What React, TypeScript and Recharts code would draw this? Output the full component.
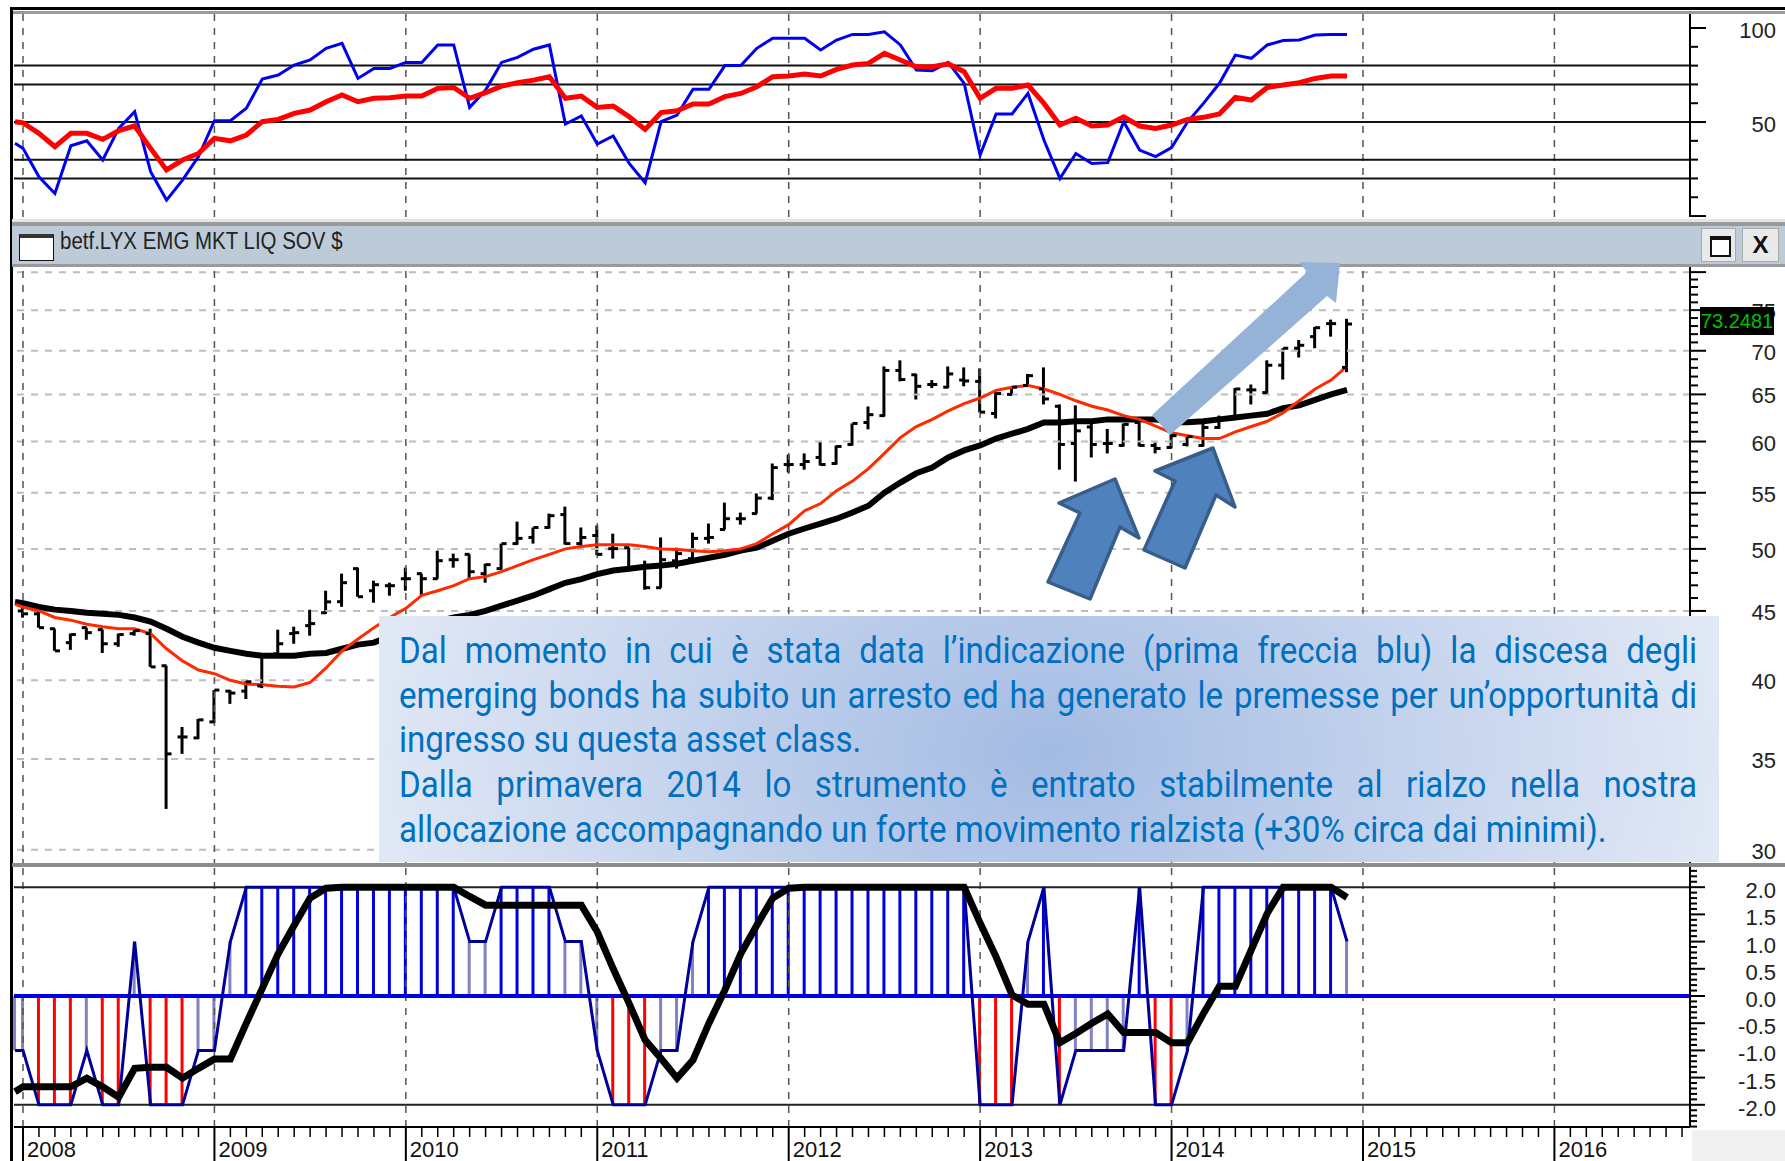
import React from "react";
import {
  Bar,
  Cell,
  ComposedChart,
  Line,
  ReferenceLine,
  XAxis,
  YAxis,
} from "recharts";

// first entry of the line series sits half a month before Jan 2008
const months = [
  -0.5, 0, 1, 2, 3, 4, 5, 6, 7, 8, 9, 10, 11, 12, 13, 14, 15, 16, 17, 18, 19, 20,
  21, 22, 23, 24, 25, 26, 27, 28, 29, 30, 31, 32, 33, 34, 35, 36, 37, 38, 39, 40,
  41, 42, 43, 44, 45, 46, 47, 48, 49, 50, 51, 52, 53, 54, 55, 56, 57, 58, 59, 60,
  61, 62, 63, 64, 65, 66, 67, 68, 69, 70, 71, 72, 73, 74, 75, 76, 77, 78, 79, 80,
  81, 82, 83,
];

const yearMonths = [0, 12, 24, 36, 48, 60, 72, 84, 96];
const yearLabels = ["2008", "2009", "2010", "2011", "2012", "2013", "2014", "2015", "2016"];

const rsiBlue = [
  38.7, 36, 20.9, 12, 37.4, 40, 29.8, 46.6, 55.5, 23.6, 8.5, 19.1, 31.6, 50.7, 50.7,
  57.3, 72.9, 75, 80.3, 83, 89.2, 91.8, 73.2, 78.5, 78.5, 81.7, 81.7, 91, 91, 57.8,
  67, 81.7, 84.4, 88.7, 91, 48.9, 53.2, 38.3, 42.6, 28, 17.7, 50.2, 53.7, 67.4, 67.4,
  80, 80, 89.2, 94.5, 94.5, 94.5, 88.3, 93.6, 96.6, 96.6, 98, 91, 77.7, 77.3, 81.7,
  70.6, 32.4, 54.3, 54.3, 65.2, 40.4, 20, 33.3, 28, 28.4, 50.2, 35.1, 31.6, 36.4, 50,
  59.9, 70.6, 85.6, 83.9, 91, 93.3, 93.6, 96.3, 96.6, 96.6,
];
const rsiRed = [
  50.2, 49.6, 44, 36.9, 44, 44, 40.8, 45.4, 47.9, 36, 24.5, 29.8, 33.3, 41.3, 40,
  43.1, 50.2, 51.4, 54.6, 56.4, 60.8, 64.4, 60.8, 62.6, 62.9, 63.8, 63.8, 67.9, 68.4,
  62.6, 65.6, 69.1, 70.9, 72.3, 74.1, 62.6, 63.8, 57.8, 58.5, 52.8, 46.1, 55, 56,
  59.6, 59.6, 63.5, 65.2, 68.8, 74.1, 74.5, 75.5, 74.5, 78, 80.3, 81.2, 86.5, 83,
  79.4, 79.4, 80.9, 76.8, 62.6, 67.9, 67.9, 69.7, 59.9, 48.4, 52, 47.9, 48.4, 52.8,
  47.9, 46.6, 48.4, 51.4, 52.5, 54.3, 63.1, 61.7, 68.4, 69.7, 70.9, 73.2, 74.5, 74.5,
];
const rsiLevels = [80, 70, 50, 30, 20];
const rsiTicks = [0, 10, 20, 30, 40, 50, 60, 70, 80, 90, 100];

const barOpen = [
  45, 44.78, 43.66, 42.64, 43.74, 43.59, 42.56, 43.3, 43.3, 41, 36.33, 36.27, 37.27,
  39.27, 39.27, 39.62, 41.84, 43.3, 43.89, 44.86, 45.71, 48.35, 46.57, 46.97, 47.53,
  47.94, 47.53, 49.09, 49.54, 47.94, 48.35, 50.45, 50.98, 51.85, 53, 50.45, 51.15,
  50.02, 50.1, 48.43, 46.81, 49, 49.18, 50.9, 51.67, 52.63, 53.09, 54.5, 57.7, 57.7,
  58.4, 57.8, 59.7, 61.97, 62.7, 67.7, 67.2, 66.1, 65.8, 66.6, 66.45, 62.93, 65, 66,
  65.6, 63.7, 59.8, 61.5, 59.8, 59.6, 61.97, 59.6, 59.4, 59.7, 59.6, 61.45, 62.5,
  65.5, 65.2, 68.3, 70.3, 71.7, 73.3, 68.05,
];
const barHigh = [
  45.23, 45, 43.66, 43.3, 43.74, 43.59, 43.3, 43.59, 43.66, 41, 36.95, 37.46, 39.34,
  39.34, 39.96, 41.84, 43.59, 43.81, 45.09, 46.57, 47.94, 48.43, 47.37, 47.21, 48.43,
  47.94, 49.85, 49.6, 49.54, 48.76, 50.45, 52.37, 51.85, 53.09, 53.72, 51.85, 52.03,
  51.31, 50.1, 49.01, 50.98, 50.1, 51.4, 52.2, 54.09, 53.18, 54.94, 57.8, 58.69, 58.8,
  60, 59.6, 61.87, 63.68, 68.16, 68.87, 67.3, 66.6, 68.16, 68.05, 67.93, 65.3, 65.9,
  67.3, 68.05, 63.9, 63.8, 61.87, 61.3, 61.87, 61.97, 59.9, 60.93, 60.6, 61.87, 62.7,
  65.7, 66.1, 68.87, 70.3, 71.3, 72.9, 73.8, 73.9,
];
const barLow = [
  44.49, 43.74, 42.05, 42.12, 42.85, 41.9, 42.34, 43.15, 40.92, 32.15, 35.3, 36.2,
  37.21, 38.43, 38.75, 39.47, 41.84, 42.56, 43.15, 44.78, 45.32, 46.1, 45.63, 46.18,
  46.57, 46.18, 47.53, 48.43, 47.53, 47.21, 48.27, 50.36, 50.45, 51.76, 50.36, 50.27,
  49.47, 49.18, 48.27, 46.65, 46.81, 48.35, 49, 50.45, 51.67, 52.1, 53.09, 54.32,
  56.92, 57.2, 57.6, 57.7, 59.6, 61.26, 62.6, 66.45, 64.44, 65.7, 65.7, 65.9, 63.04,
  62.4, 64.9, 66, 63.9, 57.2, 56.06, 58.4, 58.8, 59.5, 59.5, 58.8, 59.3, 59.5, 59.5,
  61.3, 62.4, 63.9, 65.1, 66.66, 69.2, 70.3, 71.7, 67.5,
];
const barClose = [
  44.78, 43.74, 42.05, 43.23, 43.37, 42.56, 43.23, 43.52, 40.92, 35.3, 36.33, 37.4,
  39.34, 39.14, 39.9, 41.7, 42.56, 43.37, 44.04, 45.7, 47.21, 46.1, 47.05, 46.97, 47.53,
  47.53, 49.01, 49.09, 48.1, 48.68, 50.45, 50.9, 51.85, 52.9, 50.45, 50.98, 49.54,
  50.02, 48.43, 46.81, 49.09, 49.6, 50.9, 50.98, 52.63, 52.63, 54.5, 57.4, 57.7, 58,
  57.7, 59.5, 61.87, 62.8, 67.7, 66.66, 65.9, 66.1, 67.3, 66.5, 63.07, 65.1, 65.8,
  67.1, 64.5, 59.7, 61.1, 59.7, 59.8, 61.77, 59.6, 59.3, 60.6, 60.5, 61.45, 62.4, 65.6,
  65.5, 68.3, 70.3, 70.65, 72.8, 73.3, 73.25,
];
const maBlack = [
  45.7, 45.6, 45.3, 45.1, 45, 44.86, 44.78, 44.7, 44.5, 44.2, 43.66, 43.07, 42.64,
  42.27, 42.05, 41.84, 41.7, 41.7, 41.7, 41.84, 41.9, 42.2, 42.5, 42.64, 43.1, 43.5,
  43.8, 44.2, 44.5, 44.7, 45, 45.4, 45.8, 46.2, 46.7, 47.2, 47.5, 47.9, 48.2, 48.35,
  48.5, 48.6, 48.76, 49, 49.25, 49.5, 49.85, 50.1, 50.7, 51.3, 51.76, 52.2, 52.63,
  53.18, 53.8, 55, 55.96, 56.85, 57.4, 58.4, 59.1, 59.6, 60.3, 60.8, 61.3, 61.97,
  61.97, 62.1, 62.1, 62.3, 62.3, 62.3, 62.3, 62, 62, 62.1, 62.3, 62.5, 62.7, 62.9, 63.5,
  63.8, 64.4, 65, 65.5,
];
const maRed = [
  45.5, 45.3, 45, 44.5, 44.3, 44, 43.8, 43.66, 43.66, 43.3, 42.2, 41.34, 40.7, 40.45,
  40, 39.75, 39.7, 39.6, 39.55, 39.85, 40.85, 42.05, 42.9, 43.74, 44.5, 45.2, 46.2,
  46.57, 46.97, 47.53, 47.7, 48.1, 48.6, 49.09, 49.54, 50, 50.2, 50.36, 50.36, 50.36,
  50.2, 50, 49.95, 49.85, 49.75, 49.85, 50, 50.45, 51.3, 52.1, 53.35, 54, 55.2, 56.1,
  57.3, 58.8, 60.4, 61.55, 62.3, 63.2, 64, 64.6, 65.45, 65.8, 66, 65.6, 65, 64.3, 63.7,
  63.3, 62.7, 62.3, 61.6, 60.9, 60.6, 60.3, 60.3, 61, 61.55, 62.1, 63, 64.3, 65.6, 66.6,
  68.16,
];
const priceGrid = [80, 75, 70, 65, 60, 55, 50, 45, 40, 35, 30];
const priceTicks = [
  30, 31, 32, 33, 34, 35, 36, 37, 38, 39, 40, 41, 42, 43, 44, 45, 46, 47, 48, 49, 50,
  51, 52, 53, 54, 55, 56, 57, 58, 59, 60, 61, 62, 63, 64, 65, 66, 67, 68, 69, 70, 71,
  72, 73, 74, 75, 76, 77, 78, 79, 80,
];

const oscValues = [
  -1, -1, -2, -2, -2, -1, -2, -2, 1, -2, -2, -2, -1, -1, 1, 2, 2, 2, 2, 2, 2, 2, 2, 2,
  2, 2, 2, 2, 2, 1, 1, 2, 2, 2, 2, 1, 1, -1, -2, -2, -2, -1, -1, 1, 2, 2, 2, 2, 2, 2, 2,
  2, 2, 2, 2, 2, 2, 2, 2, 2, 2, -2, -2, -2, 1, 2, -2, -1, -1, -1, -1, 2, -2, -2, -1, 2,
  2, 2, 2, 2, 2, 2, 2, 2, 1,
];
const oscAvg = [
  -1.76, -1.67, -1.67, -1.67, -1.67, -1.51, -1.67, -1.86, -1.33, -1.31, -1.31, -1.51,
  -1.33, -1.16, -1.16, -0.5, 0.14, 0.78, 1.3, 1.8, 1.98, 2, 2, 2, 2, 2, 2, 2, 2, 1.83,
  1.67, 1.67, 1.67, 1.67, 1.67, 1.67, 1.67, 1.18, 0.5, -0.14, -0.81, -1.15, -1.51, -1.18,
  -0.5, 0.11, 0.78, 1.3, 1.8, 1.98, 2, 2, 2, 2, 2, 2, 2, 2, 2, 2, 2, 1.34, 0.72, 0.02,
  -0.15, -0.15, -0.86, -0.69, -0.5, -0.33, -0.67, -0.67, -0.67, -0.86, -0.86, -0.32,
  0.18, 0.18, 0.85, 1.52, 2, 2, 2, 2, 1.81,
];
const oscTicks = [
  -2.4, -2.3, -2.2, -2.1, -2, -1.9, -1.8, -1.7, -1.6, -1.5, -1.4, -1.3, -1.2, -1.1, -1,
  -0.9, -0.8, -0.7, -0.6, -0.5, -0.4, -0.3, -0.2, -0.1, 0, 0.1, 0.2, 0.3, 0.4, 0.5, 0.6,
  0.7, 0.8, 0.9, 1, 1.1, 1.2, 1.3, 1.4, 1.5, 1.6, 1.7, 1.8, 1.9, 2, 2.1, 2.2, 2.3,
];
const monthTicks = [
  0, 1, 2, 3, 4, 5, 6, 7, 8, 9, 10, 11, 12, 13, 14, 15, 16, 17, 18, 19, 20, 21, 22, 23,
  24, 25, 26, 27, 28, 29, 30, 31, 32, 33, 34, 35, 36, 37, 38, 39, 40, 41, 42, 43, 44,
  45, 46, 47, 48, 49, 50, 51, 52, 53, 54, 55, 56, 57, 58, 59, 60, 61, 62, 63, 64, 65,
  66, 67, 68, 69, 70, 71, 72, 73, 74, 75, 76, 77, 78, 79, 80, 81, 82, 83, 84, 85, 86,
  87, 88, 89, 90, 91, 92, 93, 94, 95, 96, 97, 98, 99, 100, 101, 102, 103, 104,
];

const textLines = [
  "Dal momento in cui è stata data l’indicazione (prima freccia blu) la discesa degli",
  "emerging bonds ha subito un arresto ed ha generato le premesse per un’opportunità di",
  "ingresso su questa asset class.",
  "Dalla primavera 2014 lo strumento è entrato stabilmente al rialzo nella nostra",
  "allocazione accompagnando un forte movimento rialzista (+30% circa dai minimi).",
];
const justifiedLines = [true, true, false, true, false];

const rsiRows = months.map((m, i) => ({ m, blue: rsiBlue[i], red: rsiRed[i] }));
const priceRows = months.map((m, i) => ({
  m,
  range: i > 0 ? [barLow[i - 1], barHigh[i - 1]] : null,
  open: i > 0 ? barOpen[i - 1] : null,
  close: i > 0 ? barClose[i - 1] : null,
  black: maBlack[i],
  red: maRed[i],
}));
const oscRows = months.map((m, i) => ({ m, value: oscValues[i], avg: oscAvg[i] }));

const xDomain: [number, number] = [-0.564, 104.5];
const chartWidth = 1785;
const axisFont = "'Liberation Sans', Arial, sans-serif";

function oscColor(v: number) {
  if (v === 2) return "#0000dd";
  if (v === -2) return "#ff0000";
  return "#8282c4";
}

function RsiTick({ x, y, payload }: any) {
  const major = payload.value === 50 || payload.value === 100 || payload.value === 0;
  const label = payload.value === 50 || payload.value === 100;
  return (
    <g>
      <line x1={x} x2={x + (major ? 16 : 8)} y1={y} y2={y} stroke='#000' strokeWidth={2} />
      {label && (
        <text x={1776} y={y + 10} textAnchor='end' fontSize={22} fontFamily={axisFont} fill='#222'>
          {payload.value}
        </text>
      )}
    </g>
  );
}

function PriceTick({ x, y, payload }: any) {
  const major = payload.value % 5 === 0;
  return (
    <g>
      <line x1={x} x2={x + (major ? 16 : 8)} y1={y} y2={y} stroke='#000' strokeWidth={2} />
      {major && payload.value < 80 && (
        <text x={1776} y={y + 9} textAnchor='end' fontSize={22} fontFamily={axisFont} fill='#222'>
          {payload.value}
        </text>
      )}
    </g>
  );
}

function OscTick({ x, y, payload }: any) {
  const major = Math.abs(payload.value * 2 - Math.round(payload.value * 2)) < 0.001;
  const labelled = major && Math.abs(payload.value) <= 2;
  return (
    <g>
      <line x1={x} x2={x + (major ? 15 : 7)} y1={y} y2={y} stroke='#000' strokeWidth={2} />
      {labelled && (
        <text x={1776} y={y + 11} textAnchor='end' fontSize={22} fontFamily={axisFont} fill='#222'>
          {payload.value.toFixed(1)}
        </text>
      )}
    </g>
  );
}

function MonthTick({ x, y, payload }: any) {
  const idx = yearMonths.indexOf(payload.value);
  return (
    <g>
      <line x1={x} x2={x} y1={y} y2={idx >= 0 ? 295 : y + 10} stroke='#000' strokeWidth={idx >= 0 ? 2 : 1.5} />
      {idx >= 0 && (
        <text x={x + 4} y={y + 30} fontSize={22} fontFamily={axisFont} fill='#111'>
          {yearLabels[idx]}
        </text>
      )}
    </g>
  );
}

function OpenTick({ cx, cy, index }: any) {
  if (cy == null) return <g key={index} />;
  return <line key={index} x1={cx - 5} x2={cx} y1={cy} y2={cy} stroke='#000' strokeWidth={3} />;
}

function CloseTick({ cx, cy, index }: any) {
  if (cy == null) return <g key={index} />;
  return <line key={index} x1={cx} x2={cx + 5} y1={cy} y2={cy} stroke='#000' strokeWidth={3} />;
}

function YearLines() {
  return yearMonths.map((m) => (
    <ReferenceLine key={m} x={m} stroke='#555' strokeWidth={1.5} strokeDasharray='7 7' />
  ));
}

function RsiPanel() {
  return (
    <ComposedChart
      width={chartWidth}
      height={217}
      data={rsiRows}
      margin={{ top: 14, right: 0, bottom: 0, left: 14 }}
    >
      <XAxis dataKey='m' type='number' domain={xDomain} hide />
      <YAxis
        orientation='right'
        width={95}
        domain={[-0.5, 107.45]}
        allowDataOverflow
        ticks={rsiTicks}
        interval={0}
        tickSize={0}
        tickMargin={0}
        tick={RsiTick}
        axisLine={{ stroke: "#000", strokeWidth: 2 }}
      />
      {YearLines()}
      {rsiLevels.map((v) => (
        <ReferenceLine key={v} y={v} stroke='#111' strokeWidth={2} />
      ))}
      <Line dataKey='blue' stroke='#0000f0' strokeWidth={3} dot={false} isAnimationActive={false} />
      <Line dataKey='red' stroke='#ff0000' strokeWidth={5} dot={false} isAnimationActive={false} />
    </ComposedChart>
  );
}

function PricePanel() {
  return (
    <ComposedChart
      width={chartWidth}
      height={599}
      data={priceRows}
      margin={{ top: 0, right: 0, bottom: 0, left: 14 }}
    >
      <XAxis dataKey='m' type='number' domain={xDomain} hide />
      <YAxis
        orientation='right'
        width={95}
        scale='log'
        domain={[29.18, 80.7]}
        allowDataOverflow
        ticks={priceTicks}
        interval={0}
        tickSize={0}
        tickMargin={0}
        tick={PriceTick}
        axisLine={{ stroke: "#000", strokeWidth: 2 }}
      />
      {priceGrid.map((v) => (
        <ReferenceLine key={v} y={v} stroke='#bdbdbd' strokeWidth={2} strokeDasharray='7 7' />
      ))}
      {YearLines()}
      <Bar dataKey='range' barSize={3} fill='#000' isAnimationActive={false} />
      <Line dataKey='open' stroke='none' dot={OpenTick} isAnimationActive={false} />
      <Line dataKey='close' stroke='none' dot={CloseTick} isAnimationActive={false} />
      <Line dataKey='black' stroke='#000' strokeWidth={6} dot={false} isAnimationActive={false} />
      <Line dataKey='red' stroke='#ff2a00' strokeWidth={3} dot={false} isAnimationActive={false} />
    </ComposedChart>
  );
}

function OscPanel() {
  return (
    <ComposedChart
      width={chartWidth}
      height={295}
      data={oscRows}
      margin={{ top: 1, right: 0, bottom: 0, left: 14 }}
    >
      <XAxis
        dataKey='m'
        type='number'
        domain={xDomain}
        height={34}
        ticks={monthTicks}
        interval={0}
        tickSize={0}
        tickMargin={0}
        tick={MonthTick}
        axisLine={{ stroke: "#000", strokeWidth: 2 }}
      />
      <YAxis
        orientation='right'
        width={95}
        domain={[-2.408, 2.371]}
        allowDataOverflow
        ticks={oscTicks}
        interval={0}
        tickSize={0}
        tickMargin={0}
        tick={OscTick}
        axisLine={{ stroke: "#000", strokeWidth: 2 }}
      />
      {YearLines()}
      <ReferenceLine y={2} stroke='#222' strokeWidth={2} />
      <ReferenceLine y={-2} stroke='#222' strokeWidth={2} />
      <Bar dataKey='value' barSize={3} isAnimationActive={false}>
        {oscRows.map((r) => (
          <Cell key={r.m} fill={oscColor(r.value)} />
        ))}
      </Bar>
      <ReferenceLine y={0} stroke='#0000e6' strokeWidth={4} />
      <Line dataKey='value' stroke='#00009a' strokeWidth={3} dot={false} isAnimationActive={false} />
      <Line dataKey='avg' stroke='#000' strokeWidth={7} dot={false} isAnimationActive={false} />
    </ComposedChart>
  );
}

const box = (left: number, top: number, width: number, height: number, background: string): React.CSSProperties => ({
  position: "absolute",
  left,
  top,
  width,
  height,
  background,
});

function TitleBar() {
  return (
    <>
      <div style={box(12, 219, 1773, 3, "#e4e4e4")} />
      <div style={box(12, 222, 1773, 4, "#9a9a9a")} />
      <div style={box(12, 226, 1773, 38, "#bdcbd9")} />
      <div style={box(12, 264, 1773, 3, "#9a9a9a")} />
      <div
        style={{
          position: "absolute",
          left: 19,
          top: 234,
          width: 33,
          height: 22,
          background: "#fff",
          border: "1.5px solid #111",
          borderTop: "4px solid #333",
        }}
      />
      <div
        style={{
          position: "absolute",
          left: 60,
          top: 226,
          fontFamily: axisFont,
          fontSize: 23,
          lineHeight: "30px",
          color: "#222",
          whiteSpace: "nowrap",
          transform: "scaleX(0.89)",
          transformOrigin: "0 0",
        }}
      >
        betf.LYX EMG MKT LIQ SOV $
      </div>
      <div style={{ ...box(1701, 228, 35, 34, "#e9e9e9"), border: "1px solid #aaa", boxSizing: "border-box" }}>
        <div
          style={{
            position: "absolute",
            left: 8,
            top: 7,
            width: 17,
            height: 15,
            border: "2px solid #111",
            borderTop: "4px solid #111",
            background: "#fff",
          }}
        />
      </div>
      <div
        style={{
          ...box(1742, 228, 37, 34, "#e9e9e9"),
          border: "1px solid #aaa",
          boxSizing: "border-box",
          textAlign: "center",
          fontFamily: axisFont,
          fontWeight: 700,
          fontSize: 24,
          lineHeight: "32px",
          color: "#111",
        }}
      >
        X
      </div>
    </>
  );
}

function Arrows() {
  return (
    <svg
      width={chartWidth}
      height={1161}
      style={{ position: "absolute", left: 0, top: 0, pointerEvents: "none" }}
    >
      <polygon
        points='1307,272 1299,262 1340,263 1336,303 1327,296 1170,435 1152,415'
        fill='#95b3d7'
      />
      <polygon
        points='1115,479 1139,538 1120,527 1090,599 1048,582 1080,513 1059,503'
        fill='#4f81bd'
        stroke='#385d8a'
        strokeWidth={3.5}
        strokeLinejoin='round'
      />
      <polygon
        points='1213,448 1235,507 1216,495 1185,568 1144,550 1175,481 1155,471'
        fill='#4f81bd'
        stroke='#385d8a'
        strokeWidth={3.5}
        strokeLinejoin='round'
      />
    </svg>
  );
}

function Callout() {
  return (
    <div
      style={{
        ...box(379, 616, 1340, 246, "radial-gradient(ellipse 50% 180% at 50% 55%, #a3bbe3 0%, #e0e7f5 100%)"),
        overflow: "hidden",
      }}
    >
      <div
        style={{
          position: "absolute",
          left: 20,
          top: 13,
          width: 1411,
          transform: "scaleX(0.92)",
          transformOrigin: "0 0",
          fontFamily: "Roboto, sans-serif",
          fontSize: 36,
          lineHeight: "44.7px",
          color: "#0070c0",
        }}
      >
        {textLines.map((t, i) => (
          <div key={i} style={{ textAlign: justifiedLines[i] ? "justify" : "left", textAlignLast: justifiedLines[i] ? "justify" : "left" }}>
            {t}
          </div>
        ))}
      </div>
    </div>
  );
}

export default function App() {
  return (
    <div style={{ position: "absolute", left: 0, top: 0, width: chartWidth, height: 1161, background: "#fff", overflow: "hidden" }}>
      <div style={{ position: "absolute", left: 0, top: 0 }}>
        <RsiPanel />
      </div>
      <div style={{ position: "absolute", left: 0, top: 267 }}>
        <PricePanel />
      </div>
      <div style={{ position: "absolute", left: 0, top: 866 }}>
        <OscPanel />
      </div>
      <div style={box(10, 7, 1775, 3, "#000")} />
      <div style={box(12, 11, 1773, 3, "#9a9a9a")} />
      <div style={box(10, 7, 3, 1154, "#000")} />
      <div style={box(12, 863, 1773, 4, "#8c8c8c")} />
      <div style={box(1692, 1130, 93, 31, "#f0f0f0")} />
      <TitleBar />
      <Arrows />
      <Callout />
      <div
        style={{
          ...box(1700, 307, 74, 28, "#000"),
          color: "#00c000",
          fontFamily: axisFont,
          fontSize: 20,
          lineHeight: "28px",
          textAlign: "center",
        }}
      >
        73.2481
      </div>
    </div>
  );
}
